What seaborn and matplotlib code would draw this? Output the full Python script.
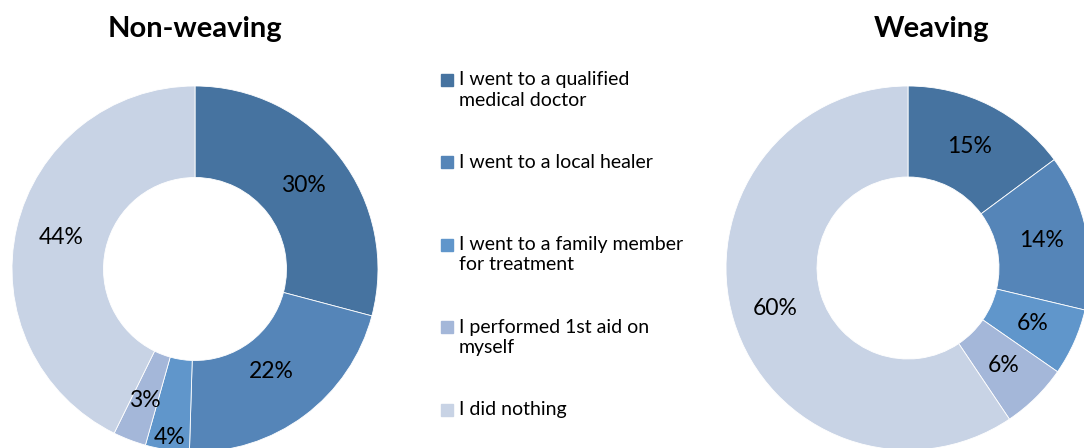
import numpy as np
import matplotlib.pyplot as plt
import seaborn as sns

# Datos de las dos encuestas
categorias = [
    "I went to a qualified\nmedical doctor",
    "I went to a local healer",
    "I went to a family member\nfor treatment",
    "I performed 1st aid on\nmyself",
    "I did nothing",
]
no_tejido = [30, 22, 4, 3, 44]
tejido = [15, 14, 6, 6, 60]
colores = ["#4673A0", "#5585B8", "#6096CB", "#A4B7D9", "#C8D3E5"]

sns.set_theme(style="white")
plt.rcParams["font.family"] = ["Lato", "DejaVu Sans"]

fig = plt.figure(figsize=(10.84, 4.48), dpi=100)


def donut(rect, valores, dist, titulo, titulo_x):
    ax = fig.add_axes(rect)
    wedges, _ = ax.pie(
        valores,
        colors=colores,
        startangle=90,
        counterclock=False,
        radius=1,
        wedgeprops=dict(width=0.5, edgecolor="white", linewidth=0.6),
    )
    ax.set_xlim(-1, 1)
    ax.set_ylim(-1, 1)
    ax.set_aspect("equal")
    ax.axis("off")
    # etiquetas de porcentaje en el centro de cada porcion
    for w, v, d in zip(wedges, valores, dist):
        ang = np.deg2rad((w.theta1 + w.theta2) / 2)
        ax.text(d * np.cos(ang), d * np.sin(ang), f"{v}%",
                ha="center", va="center", fontsize=16.5, color="black")
    fig.text(titulo_x, 0.935, titulo, ha="center", va="center",
             fontsize=21, fontweight="bold", color="black")
    return ax


donut([12 / 1084, -4 / 448, 366 / 1084, 366 / 448], no_tejido,
      [0.75, 0.7, 0.93, 0.77, 0.75], "Non-weaving", 195 / 1084)
donut([726 / 1084, -2 / 448, 364 / 1084, 364 / 448], tejido,
      [0.75, 0.75, 0.75, 0.75, 0.76], "Weaving", 932 / 1084)

# Leyenda estilo Excel (cuadro alineado con la primera linea)
leg = fig.add_axes([0, 0, 1, 1])
leg.set_xlim(0, 1084)
leg.set_ylim(448, 0)
leg.axis("off")
for i, (cat, col) in enumerate(zip(categorias, colores)):
    y0 = 80 + i * 82.5
    leg.add_patch(plt.Rectangle((441, y0 - 6), 12, 12, color=col))
    leg.text(459, y0 - 9, cat, ha="left", va="top", fontsize=14,
             color="black", linespacing=1.25)

plt.savefig("out.png", dpi=100)
